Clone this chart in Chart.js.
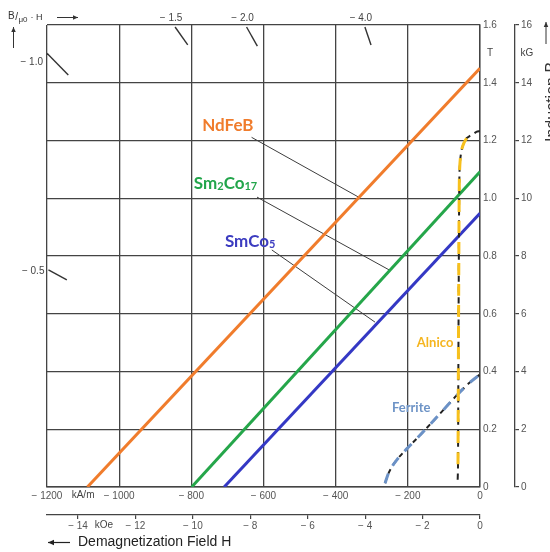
<!DOCTYPE html>
<html>
<head>
<meta charset="utf-8">
<script src="https://cdn.jsdelivr.net/npm/chart.js@4.4.1/dist/chart.umd.min.js"></script>
<style>
  html, body { margin: 0; padding: 0; background: #fff; }
  #chart { display: block; }
</style>
</head>
<body>
<canvas id="chart" width="550" height="552"></canvas>
<script>
// Demagnetization curves: H in kA/m, B in tesla
const ndfebH = [-1088, 0];
const ndfebB = [0, 1.45];
const sm2co17H = [-799, 0];
const sm2co17B = [0, 1.092];
const smco5H = [-709, 0];
const smco5B = [0, 0.948];
const alnicoH = [0, -10, -19, -28, -37, -45, -51, -55, -57, -58, -59, -60, -61, -62];
const alnicoB = [1.233, 1.23, 1.222, 1.216, 1.208, 1.19, 1.167, 1.13, 1.08, 0.95, 0.7, 0.4, 0.07, 0.02];
const ferriteH = [-263, -256, -245, -230, -203, -175, -147, -105, -64, -30, 0];
const ferriteB = [0.013, 0.04, 0.068, 0.095, 0.132, 0.168, 0.205, 0.262, 0.318, 0.36, 0.39];

// leader lines from the labels to the curves
const ndfebLeaderH = [-633, -338];
const ndfebLeaderB = [1.211, 1.005];
const sm2co17LeaderH = [-618, -252];
const sm2co17LeaderB = [1.004, 0.752];
const smco5LeaderH = [-577, -291];
const smco5LeaderB = [0.821, 0.571];

// short marks of the load lines B/(mu0 H)
const loadLineLabels = ['\u2212 1.0', '\u2212 1.5', '\u2212 2.0', '\u2212 4.0', '\u2212 0.5'];
const loadLineH = [[-1200, -1141], [-845, -810], [-647, -617], [-319, -302], [-1196, -1145]];
const loadLineB = [[1.502, 1.427], [1.593, 1.531], [1.593, 1.527], [1.593, 1.531], [0.752, 0.717]];

// axis ticks
const hTicks = [-1200, -1000, -800, -600, -400, -200, 0];   // kA/m
const bTicks = [0, 0.2, 0.4, 0.6, 0.8, 1.0, 1.2, 1.4, 1.6]; // T
const kOeTicks = [-14, -12, -10, -8, -6, -4, -2, 0];
const kGTicks = [0, 2, 4, 6, 8, 10, 12, 14, 16];

const OE = 79.577; // kA/m per kOe

const fontFam = "'Liberation Sans', Arial, sans-serif";
const tickFont = { family: fontFam, size: 10 };
const tickColor = '#555';
const gridColor = '#444';

function pts(hs, bs) {
  return hs.map((h, i) => ({ x: h, y: bs[i] }));
}

const datasets = [
  { label: 'NdFeB', data: pts(ndfebH, ndfebB), borderColor: '#f07c2c', borderWidth: 3, order: 2 },
  { label: 'Sm2Co17', data: pts(sm2co17H, sm2co17B), borderColor: '#25a64a', borderWidth: 3, order: 2 },
  { label: 'SmCo5', data: pts(smco5H, smco5B), borderColor: '#3438c4', borderWidth: 3, order: 2 },
  { label: 'Alnico', data: pts(alnicoH, alnicoB).slice(4, 13), borderColor: '#f7c01c', borderWidth: 3,
    borderDash: [12, 9], tension: 0.3, order: 0 },
  { label: 'Alnico base', data: pts(alnicoH, alnicoB), borderColor: '#222', borderWidth: 2,
    borderDash: [6, 5], tension: 0.3, order: 1 },
  { label: 'Ferrite', data: pts(ferriteH, ferriteB), borderColor: '#6b91c6', borderWidth: 3,
    borderDash: [10, 9], cubicInterpolationMode: 'monotone', order: 0 },
  { label: 'Ferrite base', data: pts(ferriteH, ferriteB), borderColor: '#222', borderWidth: 2,
    borderDash: [5, 5], cubicInterpolationMode: 'monotone', order: 1 },
  { label: 'leader NdFeB', data: pts(ndfebLeaderH, ndfebLeaderB), borderColor: '#3d3d3d', borderWidth: 1, order: 3 },
  { label: 'leader Sm2Co17', data: pts(sm2co17LeaderH, sm2co17LeaderB), borderColor: '#3d3d3d', borderWidth: 1, order: 3 },
  { label: 'leader SmCo5', data: pts(smco5LeaderH, smco5LeaderB), borderColor: '#3d3d3d', borderWidth: 1, order: 3 }
];
loadLineH.forEach((hs, i) => {
  datasets.push({ label: 'load ' + loadLineLabels[i], data: pts(hs, loadLineB[i]),
    borderColor: '#333', borderWidth: 1.4, order: 3 });
});
datasets.forEach(d => { d.showLine = true; d.pointRadius = 0; d.fill = false; });

// curve names, placed at (H, B) of their left edge / vertical middle
const curveLabels = [
  { parts: [['NdFeB', 17]], at: [-770, 1.254], color: '#f07c2c' },
  { parts: [['Sm', 17], ['2', 11], ['Co', 17], ['17', 11]], at: [-793, 1.053], color: '#22a54b' },
  { parts: [['SmCo', 17], ['5', 11]], at: [-707, 0.852], color: '#3c3cc0' },
  { parts: [['Alnico', 13]], at: [-175, 0.502], color: '#f5b51e' },
  { parts: [['Ferrite', 13]], at: [-244, 0.277], color: '#6d93c6' }
];

function arrow(ctx, x1, y1, x2, y2, head) {
  ctx.beginPath();
  ctx.moveTo(x1, y1);
  ctx.lineTo(x2, y2);
  ctx.stroke();
  const a = Math.atan2(y2 - y1, x2 - x1);
  ctx.beginPath();
  ctx.moveTo(x2, y2);
  ctx.lineTo(x2 - head * Math.cos(a) + head * 0.45 * Math.sin(a), y2 - head * Math.sin(a) - head * 0.45 * Math.cos(a));
  ctx.lineTo(x2 - head * Math.cos(a) - head * 0.45 * Math.sin(a), y2 - head * Math.sin(a) + head * 0.45 * Math.cos(a));
  ctx.closePath();
  ctx.fill();
}

const annotations = {
  id: 'annotations',
  afterDraw(chart) {
    const ctx = chart.ctx;
    const x = chart.scales.x, y = chart.scales.y, x2 = chart.scales.x2, y2 = chart.scales.y2;
    ctx.save();

    // curve names
    ctx.textBaseline = 'alphabetic';
    ctx.textAlign = 'left';
    curveLabels.forEach(l => {
      let px = x.getPixelForValue(l.at[0]);
      const py = y.getPixelForValue(l.at[1]) + l.parts[0][1] * 0.36;
      ctx.fillStyle = l.color;
      l.parts.forEach(([t, s]) => {
        ctx.font = 'bold ' + s + 'px Lato, "Open Sans", sans-serif';
        ctx.fillText(t, px, py + (s < 14 && l.parts.length > 1 ? 1 : 0));
        px += ctx.measureText(t).width;
      });
    });

    // load line labels
    ctx.fillStyle = '#444';
    ctx.font = '10px ' + fontFam;
    ctx.textBaseline = 'middle';
    loadLineLabels.forEach((t, i) => {
      const px = x.getPixelForValue(loadLineH[i][0]);
      const py = y.getPixelForValue(loadLineB[i][0]);
      if (loadLineH[i][0] <= -1190) {
        ctx.textAlign = 'right';
        ctx.fillText(t, px - 4, py + (i === 0 ? 9 : 1));
      } else {
        ctx.textAlign = 'center';
        ctx.fillText(t, px - 4, py - 9);
      }
    });

    // unit labels
    ctx.textAlign = 'center';
    ctx.textBaseline = 'top';
    ctx.fillText('kA/m', x.getPixelForValue(-1100), x.top + 3);
    ctx.fillText('kOe', x2.getPixelForValue(-13.1), x2.top + 5);
    ctx.textBaseline = 'middle';
    ctx.fillText('T', y.left + 10, y.getPixelForValue(1.5) - 1);
    ctx.fillText('kG', y2.left + 12, y2.getPixelForValue(15) - 1);

    // B / mu0 H corner label
    ctx.fillStyle = '#333';
    ctx.textAlign = 'left';
    ctx.textBaseline = 'alphabetic';
    let cx = 8;
    [['B', 10, 19], ['/', 10, 20], ['\u03bc0', 8, 22], [' \u00b7 H', 9, 20]].forEach(([t, s, b]) => {
      ctx.font = s + 'px ' + fontFam;
      ctx.fillText(t, cx, b);
      cx += ctx.measureText(t).width + 0.5;
    });
    ctx.strokeStyle = '#333';
    ctx.lineWidth = 1;
    arrow(ctx, 57, 17.5, 78, 17.5, 5);
    arrow(ctx, 13.5, 48, 13.5, 27, 5);

    // axis title
    ctx.fillStyle = '#222';
    ctx.strokeStyle = '#222';
    ctx.lineWidth = 1.2;
    arrow(ctx, 70, 542.5, 48, 542.5, 6);
    ctx.font = '14px ' + fontFam;
    ctx.textBaseline = 'middle';
    ctx.fillText('Demagnetization Field H', 78, 542);

    // induction label, cut by the right edge
    ctx.save();
    ctx.translate(557, 142);
    ctx.rotate(-Math.PI / 2);
    ctx.font = '16px ' + fontFam;
    ctx.fillStyle = '#333';
    ctx.textBaseline = 'alphabetic';
    ctx.fillText('Induction B', 0, 0);
    ctx.restore();
    ctx.strokeStyle = '#333';
    ctx.fillStyle = '#333';
    ctx.lineWidth = 1;
    arrow(ctx, 546, 44, 546, 22, 5);

    ctx.restore();
  }
};

const fmtH = v => v === 0 ? '0' : '\u2212 ' + Math.abs(v);

new Chart(document.getElementById('chart'), {
  type: 'scatter',
  data: { datasets },
  options: {
    responsive: false,
    animation: false,
    layout: { padding: { left: 47, top: 25, right: 0, bottom: 0 } },
    plugins: { legend: { display: false }, tooltip: { enabled: false } },
    scales: {
      x: {
        type: 'linear', position: 'bottom', min: hTicks[0], max: hTicks[hTicks.length - 1],
        afterFit: s => { s.height = 28; },
        afterBuildTicks: s => { s.ticks = hTicks.map(v => ({ value: v })); },
        grid: { color: gridColor, lineWidth: 1.3, drawTicks: false },
        border: { color: gridColor, width: 1.4 },
        ticks: { padding: 3, font: tickFont, color: tickColor, callback: fmtH, maxRotation: 0, autoSkip: false }
      },
      y: {
        type: 'linear', position: 'right', min: bTicks[0], max: bTicks[bTicks.length - 1],
        afterFit: s => { s.width = 35; },
        afterBuildTicks: s => { s.ticks = bTicks.map(v => ({ value: v })); },
        grid: { color: gridColor, lineWidth: 1.3, drawTicks: false },
        border: { color: gridColor, width: 1.4 },
        ticks: { padding: 3, font: tickFont, color: tickColor, autoSkip: false,
          callback: v => v === 0 ? '0' : v.toFixed(1) }
      },
      x2: {
        type: 'linear', position: 'bottom', min: hTicks[0] / OE, max: 0,
        afterFit: s => { s.height = 37; },
        afterBuildTicks: s => { s.ticks = kOeTicks.map(v => ({ value: v })); },
        grid: { drawOnChartArea: false, color: gridColor, lineWidth: 1.2, tickLength: 4 },
        border: { color: gridColor, width: 1.3 },
        ticks: { padding: 1, font: tickFont, color: tickColor, callback: fmtH, maxRotation: 0, autoSkip: false }
      },
      y2: {
        type: 'linear', position: 'right', min: 0, max: 16,
        afterFit: s => { s.width = 35; },
        afterBuildTicks: s => { s.ticks = kGTicks.map(v => ({ value: v })); },
        grid: { drawOnChartArea: false, color: gridColor, lineWidth: 1.2, tickLength: 4 },
        border: { color: gridColor, width: 1.3 },
        ticks: { padding: 2, font: tickFont, color: tickColor, autoSkip: false }
      }
    }
  },
  plugins: [annotations]
});
</script>
</body>
</html>
